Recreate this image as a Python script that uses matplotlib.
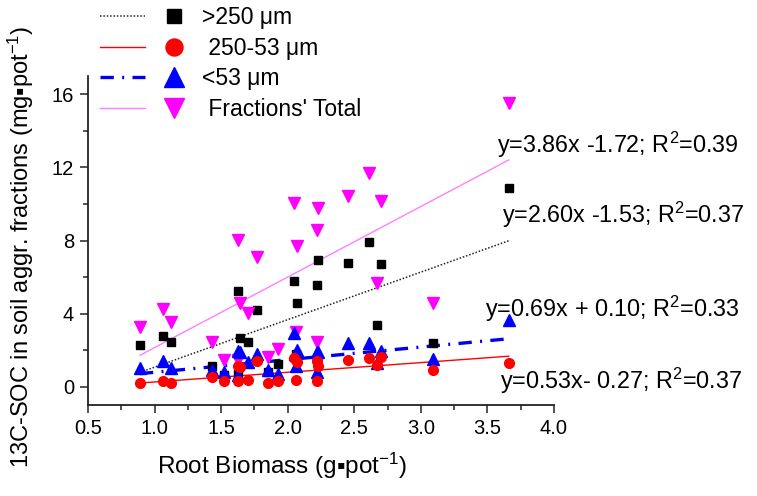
import numpy as np
import matplotlib
matplotlib.use('Agg')
import matplotlib.pyplot as plt
from matplotlib.lines import Line2D
from matplotlib.legend_handler import HandlerTuple

plt.rcParams['font.family'] = ['Liberation Sans', 'DejaVu Sans']
plt.rcParams['mathtext.fontset'] = 'custom'
plt.rcParams['mathtext.rm'] = 'Liberation Sans'
plt.rcParams['mathtext.it'] = 'Liberation Sans:italic'

# datos (biomasa de raiz por maceta)
root_biomass = [0.89, 1.06, 1.12, 1.43, 1.52, 1.63, 1.63, 1.64, 1.70, 1.77, 1.85, 1.93,
                2.05, 2.06, 2.07, 2.22, 2.22, 2.23, 2.45, 2.61, 2.67, 2.70, 3.09, 3.66]
soc_gt250 = [2.30, 2.76, 2.47, 1.16, 0.65, 5.23, 0.71, 2.65, 2.47, 4.18, 0.78, 1.23,
             5.79, 1.80, 4.56, 5.57, 1.50, 6.92, 6.77, 7.92, 3.38, 6.74, 2.41, 10.86]
soc_250_53 = [0.18, 0.29, 0.23, 0.53, 0.34, 1.11, 0.34, 1.08, 0.38, 1.38, 0.20, 0.34,
              1.56, 0.38, 1.36, 1.40, 0.31, 1.11, 1.47, 1.56, 1.20, 1.62, 0.89, 1.32]
soc_lt53 = [1.03, 1.40, 1.05, 0.90, 0.78, 1.94, 0.64, 1.92, 1.36, 1.78, 0.89, 0.67,
            2.96, 1.16, 2.02, 1.88, 0.83, 1.91, 2.41, 2.41, 1.29, 1.98, 1.54, 3.65]
soc_total = [3.28, 4.25, 3.52, 2.44, 1.47, 8.04, 1.47, 4.56, 4.03, 7.10, 1.65, 2.07,
             10.04, 3.01, 7.70, 8.59, 2.45, 9.79, 10.46, 11.69, 5.65, 10.15, 4.59, 15.52]

# regresiones (pendiente, intercepto) tal como aparecen en la figura
slopes = [2.60, 0.53, 0.69, 3.86]
intercepts = [-1.53, -0.27, 0.10, -1.72]
ecuaciones = ['y=3.86x -1.72; R$^2$=0.39',
              'y=2.60x -1.53; R$^2$=0.37',
              'y=0.69x + 0.10; R$^2$=0.33',
              'y=0.53x- 0.27; R$^2$=0.37']
etiquetas = ['>250 \u03bcm', ' 250-53 \u03bcm', '<53 \u03bcm', " Fractions' Total"]

W, H = 757, 496
fig = plt.figure(figsize=(W / 100, H / 100), dpi=100)
ax = fig.add_axes([88 / W, 1 - 405 / H, 466 / W, 329 / H])

x = np.array(root_biomass)
series = [soc_gt250, soc_250_53, soc_lt53, soc_total]
marcadores = ['s', 'o', '^', 'v']
col_mk = ['black', '#ff0000', '#0000ff', '#ff00ff']
tam_mk = [6.0, 7.0, 8.0, 8.0]
col_ln = ['#222222', '#ff0000', '#0000ee', '#ff80ff']
ls_ln = [(0, (1, 1.2)), '-', (0, (4, 2.5, 0.6, 2.5)), '-']
lw_ln = [1.1, 1.0, 2.4, 1.0]
z_mk = [3, 5, 4, 3.5]

# puntos
for y, m, c, s, z in zip(series, marcadores, col_mk, tam_mk, z_mk):
    ax.plot(x, y, ls='none', marker=m, color=c, ms=s, mec=c, zorder=z)

# lineas de regresion
xr = np.array([x.min(), x.max()])
for a, b, c, ls, lw in zip(slopes, intercepts, col_ln, ls_ln, lw_ln):
    ax.plot(xr, a * xr + b, color=c, ls=ls, lw=lw, zorder=2)

ax.set_xlim(0.5, 4.0)
ax.set_ylim(-1, 17)
ax.set_xticks(np.arange(0.5, 4.01, 0.5))
ax.set_xticks(np.arange(0.75, 4.0, 0.5), minor=True)
ax.set_yticks([0, 4, 8, 12, 16])
ax.set_yticks([2, 6, 10, 14], minor=True)
ax.set_xticklabels(['%.1f' % v for v in np.arange(0.5, 4.01, 0.5)])
ax.tick_params(which='major', length=6, width=1.1, labelsize=14.5, direction='out',
               color='#222222', pad=4)
ax.tick_params(which='minor', length=3.5, width=1.1, direction='out', color='#222222')
for lado in ['top', 'right']:
    ax.spines[lado].set_visible(False)
for lado in ['left', 'bottom']:
    ax.spines[lado].set_linewidth(1.3)
    ax.spines[lado].set_color('#222222')

ax.set_xlabel('Root Biomass (g\u25aapot$^{-1}$)', fontsize=17.5)
ax.xaxis.set_label_coords(0.416, -0.14)
ax.set_ylabel('13C-SOC in soil aggr. fractions (mg\u25aapot$^{-1}$)', fontsize=17)
ax.yaxis.set_label_coords(-0.112, 0.48)

# ecuaciones
pos_eq = [(497, 153), (502, 223), (485, 317), (500, 389)]
for txt, (px, py) in zip(ecuaciones, pos_eq):
    fig.text(px / W, 1 - py / H, txt, fontsize=16.8, ha='left', va='baseline')

# leyenda (linea + marcador separados, estilo Origin)
handles = []
for m, c, s, lc, ls, lw in zip(marcadores, col_mk, tam_mk, col_ln, ls_ln, lw_ln):
    h_ln = Line2D([], [], color=lc, ls=ls, lw=lw)
    h_mk = Line2D([], [], ls='none', marker=m, color=c, ms=s)
    handles.append((h_ln, h_mk))
fig.legend(handles, etiquetas, loc='upper left', bbox_to_anchor=(100 / W, 1 - 6 / H),
           frameon=False, fontsize=16.5, handlelength=4.2, handletextpad=0.25,
           labelspacing=0.33, borderpad=0, borderaxespad=0, markerscale=1.75,
           handler_map={tuple: HandlerTuple(ndivide=None, pad=0.25)})

fig.savefig('out.png', dpi=100)
